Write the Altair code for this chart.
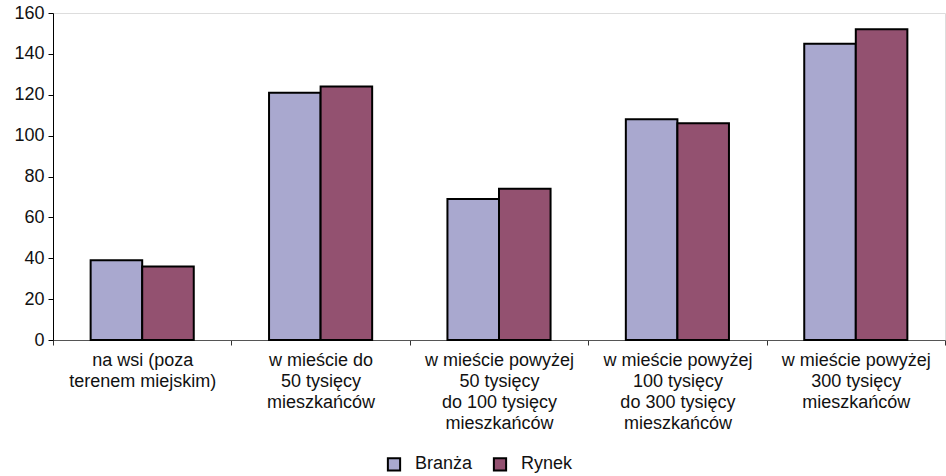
import altair as alt
import pandas as pd

# Categories (lines separated by "|") and the two series
categories = [
    "na wsi (poza|terenem miejskim)",
    "w mieście do|50 tysięcy|mieszkańców",
    "w mieście powyżej|50 tysięcy|do 100 tysięcy|mieszkańców",
    "w mieście powyżej|100 tysięcy|do 300 tysięcy|mieszkańców",
    "w mieście powyżej|300 tysięcy|mieszkańców",
]
series_names = ["Branża", "Rynek"]
branza = [39, 121, 69, 108, 145]
rynek = [36, 124, 74, 106, 152]
y_ticks = [0, 20, 40, 60, 80, 100, 120, 140, 160]

rows = []
for cat, b, r in zip(categories, branza, rynek):
    rows.append({"kategoria": cat, "seria": series_names[0], "wartosc": b})
    rows.append({"kategoria": cat, "seria": series_names[1], "wartosc": r})
df = pd.DataFrame(rows)

FONT = "Liberation Sans"

bars = alt.Chart(df).mark_bar(stroke="black", strokeWidth=2).encode(
    x=alt.X(
        "kategoria:N",
        sort=categories,
        title=None,
        scale=alt.Scale(paddingInner=0, paddingOuter=0),
        axis=alt.Axis(
            labelAngle=0,
            labelExpr="split(datum.label, '|')",
            labelLineHeight=21,
            labelFontSize=18,
            labelColor="#111111",
            labelPadding=6,
            labelBaseline="top",
            tickBand="extent",
            tickSize=5,
            tickColor="#333333",
            domainColor="#555555",
            labelLimit=300,
        ),
    ),
    xOffset=alt.XOffset(
        "seria:N",
        sort=series_names,
        scale=alt.Scale(paddingInner=0, paddingOuter=0.73),
    ),
    y=alt.Y(
        "wartosc:Q",
        title=None,
        scale=alt.Scale(domain=[0, 160], nice=False),
        axis=alt.Axis(
            values=y_ticks,
            grid=False,
            labelFontSize=18,
            labelColor="#111111",
            tickSize=5,
            tickColor="black",
            domainColor="black",
            labelPadding=4,
        ),
    ),
    color=alt.Color(
        "seria:N",
        sort=series_names,
        scale=alt.Scale(domain=series_names, range=["#A9A8CF", "#935170"]),
        legend=alt.Legend(
            title=None,
            orient="none",
            direction="horizontal",
            legendX=332,
            legendY=442,
            symbolType="square",
            symbolSize=150,
            symbolStrokeColor="black",
            symbolStrokeWidth=2,
            symbolOpacity=1,
            labelFontSize=18,
            labelColor="#111111",
            columnPadding=16,
            labelOffset=12,
        ),
    ),
)

chart = bars.properties(
    width=892,
    height=327,
    autosize=alt.AutoSizeParams(type="none"),
    padding={"left": 53, "top": 13, "right": 1, "bottom": 136},
    background="white",
).configure_view(
    fill="#C9C9CD",
    stroke=None,
).configure(
    font=FONT,
)

chart.save("out.html", embed_options={"renderer": "svg", "actions": False})
